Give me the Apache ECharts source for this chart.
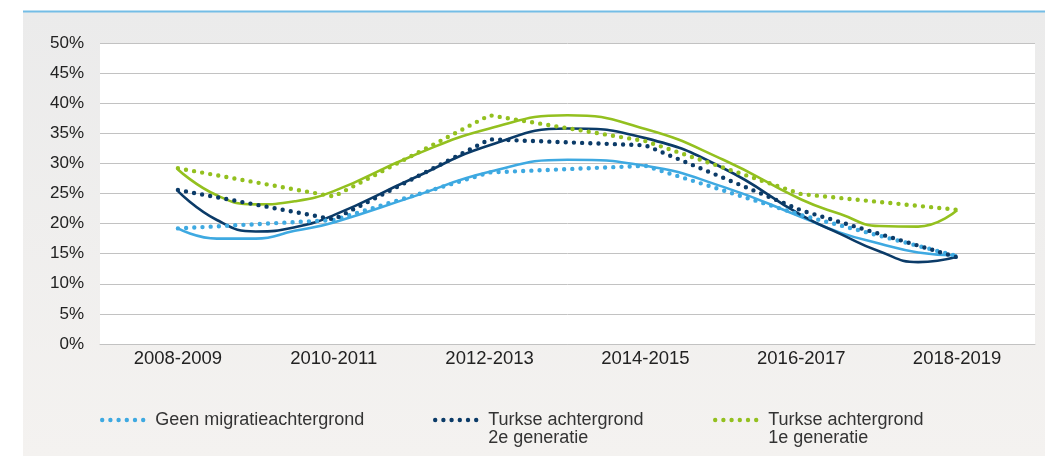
<!DOCTYPE html>
<html>
<head>
<meta charset="utf-8">
<script src="https://cdn.jsdelivr.net/npm/echarts@6/dist/echarts.min.js"></script>
<style>
  html, body { margin: 0; padding: 0; background: #ffffff; }
  #chart { width: 1045px; height: 456px; }
</style>
</head>
<body>
<div id="chart"></div>
<script>
// ---- Data ----
var categories = ['2008-2009', '2010-2011', '2012-2013', '2014-2015', '2016-2017', '2018-2019'];
var yTicks = [0, 5, 10, 15, 20, 25, 30, 35, 40, 45, 50];

var seriesNames = ['Geen migratieachtergrond', 'Turkse achtergrond\n2e generatie', 'Turkse achtergrond\n1e generatie'];

// observed values (dotted lines)
var geenValues   = [19.2, 20.6, 28.5, 29.6, 21.4, 14.6];
var tweedeValues = [25.6, 20.7, 34.0, 33.0, 22.2, 14.4];
var eersteValues = [29.2, 24.5, 38.0, 33.7, 24.9, 22.3];

// trend curves (solid lines) at category positions
var trendPos     = [0, 0.25, 0.5, 0.75, 1, 1.5, 2, 2.5, 3, 3.5, 4, 4.25, 4.5, 4.75, 5];
var geenTrend    = [19.2, 17.5, 17.5, 18.8, 20.2, 24.4, 28.6, 30.6, 29.6, 26.1, 21.1, 18.5, 16.7, 15.2, 14.7];
var tweedeTrend  = [25.4, 20.6, 18.7, 19.4, 21.4, 27.4, 33.0, 35.8, 34.2, 29.2, 21.4, 18.3, 15.4, 13.6, 14.5];
var eersteTrend  = [29.0, 24.7, 23.2, 23.7, 25.4, 31.2, 35.8, 38.0, 35.7, 30.6, 24.0, 21.6, 19.6, 19.5, 22.2];

// ---- Styles ----
var colors = ['#3ea9e1', '#0b3b68', '#93c01f'];
var FONT = 'Liberation Sans, Arial, sans-serif';

function pairs(pos, vals) {
  return pos.map(function (p, i) { return [p, vals[i]]; });
}

function dotted(name, data, color) {
  return {
    name: name, type: 'line', xAxisIndex: 0, yAxisIndex: 0,
    data: data, symbol: 'none', smooth: false, z: 4,
    lineStyle: { color: color, width: 4.4, type: [0, 8.2], cap: 'round' },
    itemStyle: { color: color }
  };
}
function trend(name, data, color) {
  return {
    name: name, type: 'line', xAxisIndex: 1, yAxisIndex: 0,
    data: pairs(trendPos, data), symbol: 'none', smooth: true, z: 3,
    lineStyle: { color: color, width: 2.6 },
    itemStyle: { color: color },
    silent: true
  };
}

function legendAt(left, top, name, multi) {
  return {
    left: left, top: top, data: [name], orient: 'horizontal',
    itemWidth: 48, itemHeight: 10, padding: 0, selectedMode: false,
    itemStyle: { opacity: 0 },
    lineStyle: { width: 4.4, type: [0, 8.2], cap: 'round' },
    formatter: function (n) { return multi ? ' \n' + n : n; },
    textStyle: {
      fontFamily: FONT, fontSize: 18, color: '#333', lineHeight: 18
    }
  };
}

var chart = echarts.init(document.getElementById('chart'), null, { renderer: 'canvas' });
var option = {
  animation: false,
  backgroundColor: 'transparent',
  textStyle: { fontFamily: FONT },
  graphic: { elements: [
    { type: 'rect', z: -100, shape: { x: 0, y: 0, width: 1045, height: 456 }, style: { fill: '#ffffff' } },
    { type: 'rect', z: -99, shape: { x: 23, y: 12, width: 1022, height: 444 },
      style: { fill: new echarts.graphic.LinearGradient(0, 0, 0, 1, [
        { offset: 0, color: '#ebebeb' }, { offset: 1, color: '#f4f2f0' }]) } },
    { type: 'rect', z: -98, shape: { x: 23, y: 10.5, width: 1022, height: 2 }, style: { fill: '#74bde6' } }
  ]},
  grid: {
    left: 100, right: 10, top: 43, bottom: 112,
    show: true, backgroundColor: '#ffffff', borderWidth: 0
  },
  legend: [
    legendAt(100, 411, seriesNames[0], false),
    legendAt(433, 393, seriesNames[1], true),
    legendAt(713, 393, seriesNames[2], true)
  ],
  xAxis: [
    {
      type: 'category', data: categories, boundaryGap: true,
      axisLine: { show: true, lineStyle: { color: '#c2c2c2', width: 1 } },
      axisTick: { show: false },
      axisLabel: { fontFamily: FONT, fontSize: 18.5, color: '#222', margin: 5 },
      splitLine: { show: false }
    },
    {
      type: 'value', min: -0.5, max: 5.5, show: false,
      splitLine: { show: false }
    }
  ],
  yAxis: {
    type: 'value', min: yTicks[0], max: yTicks[yTicks.length - 1], interval: 5,
    axisLine: { show: false }, axisTick: { show: false },
    axisLabel: { fontFamily: FONT, fontSize: 17, color: '#222', margin: 16, formatter: '{value}%' },
    splitLine: { show: true, lineStyle: { color: '#c2c2c2', width: 1 } }
  },
  series: [
    trend('trend-geen', geenTrend, colors[0]),
    trend('trend-2e', tweedeTrend, colors[1]),
    trend('trend-1e', eersteTrend, colors[2]),
    dotted(seriesNames[0], geenValues, colors[0]),
    dotted(seriesNames[1], tweedeValues, colors[1]),
    dotted(seriesNames[2], eersteValues, colors[2])
  ]
};
chart.setOption(option);
</script>
</body>
</html>
